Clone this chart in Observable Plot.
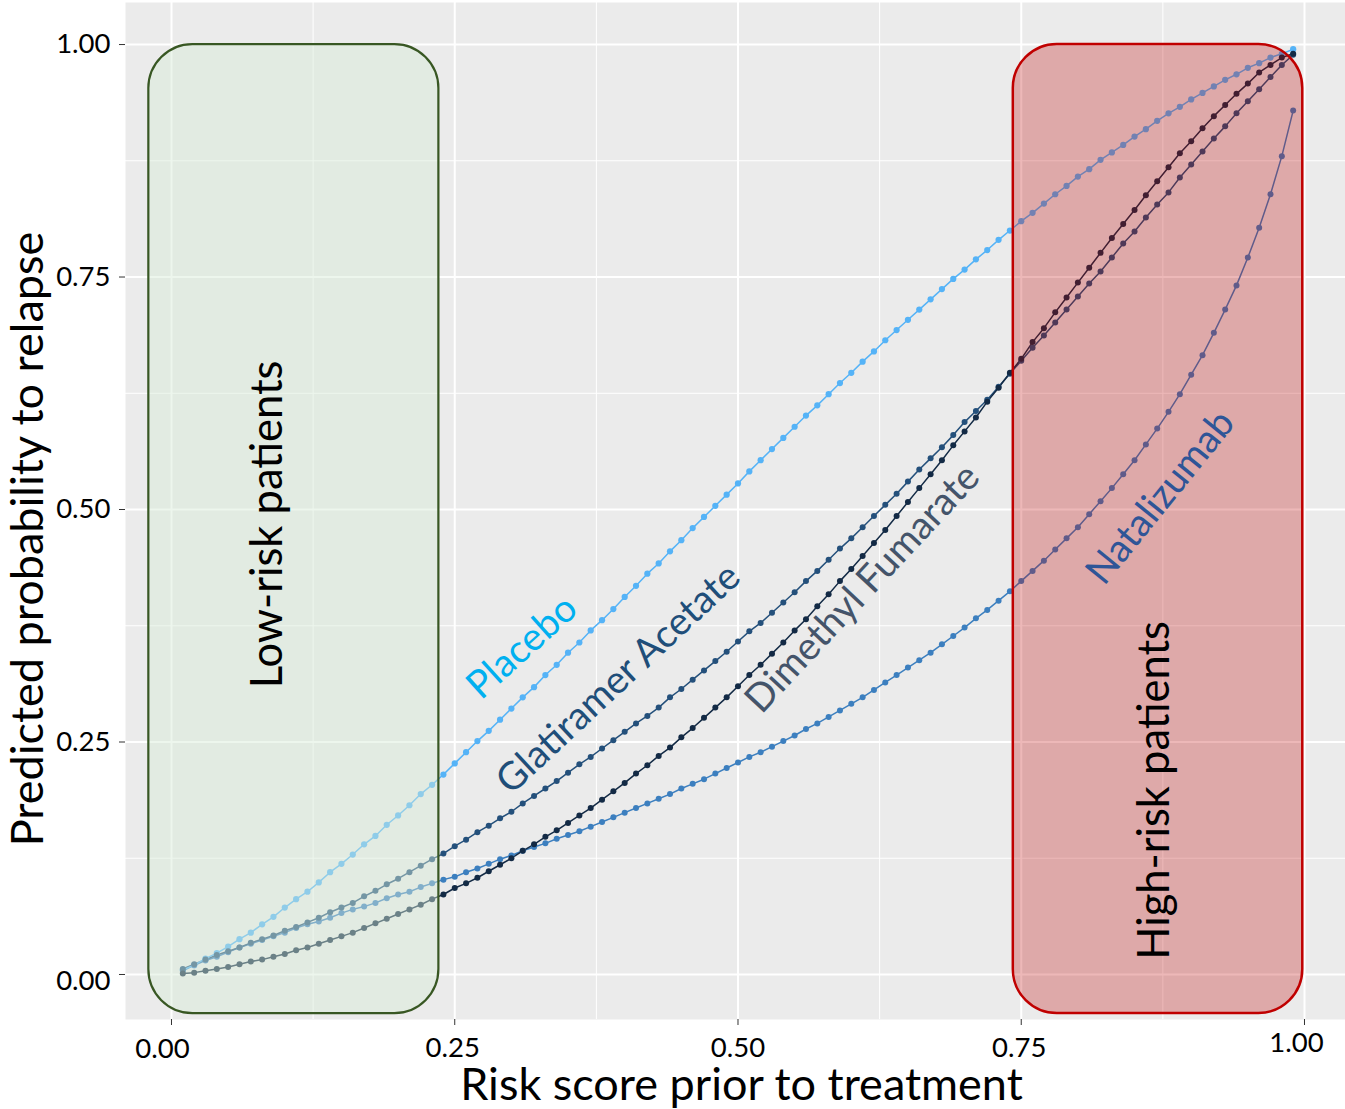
<!DOCTYPE html>
<html><head><meta charset="utf-8">
<script src="https://cdn.jsdelivr.net/npm/d3@7"></script>
<script src="https://cdn.jsdelivr.net/npm/@observablehq/plot@0.6"></script>
<style>html,body{margin:0;padding:0;background:#fff;}</style>
</head><body><div id="chart"></div>
<script>
// Risk score prior to treatment (x values of every dot)
const riskScore = [0.01,0.02,0.03,0.04,0.05,0.06,0.07,0.08,0.09,0.10,
0.11,0.12,0.13,0.14,0.15,0.16,0.17,0.18,0.19,0.20,
0.21,0.22,0.23,0.24,0.25,0.26,0.27,0.28,0.29,0.30,
0.31,0.32,0.33,0.34,0.35,0.36,0.37,0.38,0.39,0.40,
0.41,0.42,0.43,0.44,0.45,0.46,0.47,0.48,0.49,0.50,
0.51,0.52,0.53,0.54,0.55,0.56,0.57,0.58,0.59,0.60,
0.61,0.62,0.63,0.64,0.65,0.66,0.67,0.68,0.69,0.70,
0.71,0.72,0.73,0.74,0.75,0.76,0.77,0.78,0.79,0.80,
0.81,0.82,0.83,0.84,0.85,0.86,0.87,0.88,0.89,0.90,
0.91,0.92,0.93,0.94,0.95,0.96,0.97,0.98,0.99];

// Predicted probability to relapse, per treatment
const placebo = [0.005,0.010,0.017,0.023,0.030,0.038,0.045,0.054,0.062,0.072,
0.081,0.089,0.099,0.110,0.119,0.129,0.140,0.149,0.161,0.171,
0.182,0.194,0.204,0.215,0.227,0.239,0.251,0.262,0.274,0.286,
0.298,0.309,0.322,0.333,0.346,0.357,0.370,0.381,0.393,0.406,
0.418,0.431,0.442,0.455,0.467,0.480,0.492,0.504,0.516,0.528,
0.541,0.553,0.565,0.577,0.589,0.601,0.612,0.624,0.636,0.647,
0.659,0.670,0.682,0.693,0.704,0.715,0.726,0.737,0.748,0.758,
0.769,0.779,0.790,0.800,0.810,0.819,0.829,0.839,0.848,0.858,
0.866,0.876,0.884,0.892,0.901,0.909,0.918,0.926,0.933,0.941,
0.948,0.955,0.962,0.968,0.975,0.980,0.986,0.990,0.995];

const glatiramer = [0.006,0.011,0.016,0.021,0.025,0.029,0.034,0.038,0.042,0.047,
0.051,0.056,0.061,0.067,0.072,0.077,0.084,0.090,0.097,0.103,
0.110,0.117,0.124,0.130,0.138,0.145,0.153,0.160,0.168,0.175,
0.184,0.192,0.200,0.208,0.217,0.226,0.234,0.243,0.252,0.261,
0.270,0.278,0.287,0.298,0.307,0.317,0.327,0.337,0.347,0.358,
0.369,0.378,0.389,0.400,0.411,0.423,0.434,0.446,0.458,0.469,
0.481,0.493,0.505,0.517,0.530,0.543,0.555,0.567,0.580,0.594,
0.606,0.618,0.632,0.646,0.660,0.674,0.687,0.701,0.715,0.729,
0.743,0.756,0.771,0.786,0.799,0.814,0.828,0.841,0.857,0.871,
0.885,0.899,0.912,0.926,0.939,0.952,0.965,0.978,0.989];

const dimethyl = [0.001,0.002,0.004,0.006,0.008,0.011,0.014,0.016,0.019,0.022,
0.026,0.029,0.033,0.037,0.041,0.045,0.050,0.055,0.060,0.065,
0.070,0.075,0.081,0.086,0.093,0.098,0.104,0.111,0.118,0.125,
0.133,0.140,0.148,0.155,0.163,0.171,0.179,0.188,0.197,0.206,
0.216,0.225,0.235,0.244,0.255,0.265,0.276,0.287,0.298,0.310,
0.322,0.333,0.345,0.357,0.370,0.382,0.396,0.409,0.423,0.436,
0.450,0.464,0.478,0.493,0.508,0.523,0.538,0.553,0.569,0.584,
0.599,0.616,0.631,0.647,0.662,0.680,0.695,0.712,0.728,0.744,
0.760,0.776,0.792,0.807,0.822,0.838,0.853,0.868,0.883,0.896,
0.910,0.923,0.935,0.947,0.958,0.970,0.978,0.986,0.990];

const natalizumab = [0.004,0.010,0.015,0.019,0.024,0.029,0.033,0.037,0.041,0.045,
0.050,0.054,0.057,0.061,0.066,0.070,0.073,0.077,0.082,0.086,
0.089,0.094,0.098,0.102,0.105,0.110,0.114,0.119,0.124,0.128,
0.133,0.137,0.141,0.146,0.150,0.154,0.159,0.164,0.169,0.174,
0.179,0.184,0.189,0.194,0.200,0.205,0.210,0.216,0.222,0.228,
0.234,0.239,0.245,0.251,0.257,0.264,0.270,0.277,0.284,0.291,
0.298,0.306,0.314,0.322,0.330,0.338,0.346,0.355,0.364,0.373,
0.383,0.392,0.402,0.412,0.423,0.434,0.445,0.457,0.469,0.481,
0.495,0.509,0.523,0.538,0.553,0.570,0.587,0.605,0.624,0.645,
0.666,0.690,0.715,0.741,0.771,0.803,0.839,0.880,0.929];

const seriesNames  = ["Natalizumab", "Glatiramer Acetate", "Dimethyl Fumarate", "Placebo"];
const seriesValues = [natalizumab, glatiramer, dimethyl, placebo];
const seriesColors = ["#3c7fbf", "#24507b", "#132a45", "#55b3f7"];

// Curve labels
const labelText  = ["Placebo", "Glatiramer Acetate", "Dimethyl Fumarate", "Natalizumab"];
const labelX     = [0.3095, 0.3945, 0.610, 0.873];
const labelY     = [0.352, 0.318, 0.415, 0.513];
const labelAngle = [-42, -43, -47, -51];
const labelColor = ["#00b0f0", "#1f4e79", "#44546a", "#2f5597"];

// Highlighted risk groups
const boxText = ["Low-risk patients", "High-risk patients"];
const boxX1 = [-0.02, 0.743];
const boxX2 = [0.236, 0.9985];
const boxY1 = [-0.042, -0.042];
const boxY2 = [1.0, 1.0];
const boxTextX = [0.0856, 0.8685];
const boxTextY = [0.484, 0.198];

// Axis ticks
const majorTicks = [0, 0.25, 0.5, 0.75, 1];
const minorTicks = [0.125, 0.375, 0.625, 0.875];

const rows = [];
seriesNames.forEach((name, s) => seriesValues[s].forEach((v, i) => rows.push({x: riskScore[i], y: v, series: name})));

const boxes = boxText.map((t, i) => ({text: t, x1: boxX1[i], x2: boxX2[i], y1: boxY1[i], y2: boxY2[i], tx: boxTextX[i], ty: boxTextY[i]}));
const labels = labelText.map((t, i) => ({text: t, x: labelX[i], y: labelY[i], angle: labelAngle[i], color: labelColor[i]}));

const fmt = d3.format(".2f");
const FONT = "Lato, 'Open Sans', sans-serif";
const TICK_FS = 27.5;
const tickLabel = {tickSize: 0, fontSize: TICK_FS, fill: "#000", label: null, tickFormat: fmt};

const chart = Plot.plot({
  width: 1345,
  height: 1109,
  marginLeft: 125,
  marginRight: 0,
  marginTop: 2,
  marginBottom: 90,
  style: {fontFamily: FONT, background: "white", overflow: "visible"},
  x: {domain: [-0.0406, 1.0362]},
  y: {domain: [-0.0484, 1.0452]},
  color: {domain: seriesNames, range: seriesColors},
  marks: [
    Plot.frame({fill: "#ebebeb", stroke: null}),
    Plot.gridX(minorTicks, {stroke: "white", strokeOpacity: 1, strokeWidth: 1}),
    Plot.gridY(minorTicks, {stroke: "white", strokeOpacity: 1, strokeWidth: 1}),
    Plot.gridX(majorTicks, {stroke: "white", strokeOpacity: 1, strokeWidth: 2}),
    Plot.gridY(majorTicks, {stroke: "white", strokeOpacity: 1, strokeWidth: 2}),
    Plot.line(rows, {x: "x", y: "y", z: "series", stroke: "series", strokeWidth: 1.5}),
    Plot.dot(rows, {x: "x", y: "y", fill: "series", r: d => d.series === "Placebo" ? 4.3 : 4.0, stroke: null}),
    Plot.rect(boxes.slice(0, 1), {x1: "x1", x2: "x2", y1: "y1", y2: "y2", fill: "#d8ecd6", fillOpacity: 0.45, stroke: "#385723", strokeWidth: 2.2, rx: 44, ry: 44}),
    Plot.rect(boxes.slice(1, 2), {x1: "x1", x2: "x2", y1: "y1", y2: "y2", fill: "#c00000", fillOpacity: 0.28, stroke: "#c00000", strokeWidth: 2.5, rx: 44, ry: 44}),
    Plot.text(boxes, {x: "tx", y: "ty", text: "text", rotate: -90, fontSize: 43.5, fill: "#000", textAnchor: "middle", lineAnchor: "middle"}),
    ...labels.map(l => Plot.text([l], {x: "x", y: "y", text: "text", rotate: l.angle, fill: l.color, fontSize: 38.5, textAnchor: "middle", lineAnchor: "middle"})),
    // tick marks
    Plot.axisY({ticks: majorTicks, tickSize: 6, tickFormat: () => "", stroke: "#333", label: null}),
    Plot.axisX({ticks: majorTicks, tickSize: 6, tickFormat: () => "", stroke: "#333", label: null}),
    // tick labels (placed as in the reference)
    Plot.axisY({...tickLabel, ticks: [0.25, 0.5, 0.75, 1], tickPadding: 15}),
    Plot.axisY({...tickLabel, ticks: [0], tickPadding: 15, dy: 7}),
    Plot.axisX({...tickLabel, ticks: [0.25, 0.75], tickPadding: 18, dx: -2}),
    Plot.axisX({...tickLabel, ticks: [0.5], tickPadding: 18}),
    Plot.axisX({...tickLabel, ticks: [0], tickPadding: 19, dx: -9}),
    Plot.axisX({...tickLabel, ticks: [1], tickPadding: 13, dx: -8}),
    Plot.text(["Risk score prior to treatment"], {text: d => d, frameAnchor: "bottom", textAnchor: "middle", lineAnchor: "bottom", dx: 6, dy: 80, fontSize: 45, fill: "#000"}),
    Plot.text(["Predicted probability to relapse"], {text: d => d, frameAnchor: "left", textAnchor: "middle", lineAnchor: "bottom", rotate: -90, dx: -83, dy: 28, fontSize: 45, fill: "#000"})
  ]
});
document.getElementById("chart").appendChild(chart);
</script>
</body></html>
